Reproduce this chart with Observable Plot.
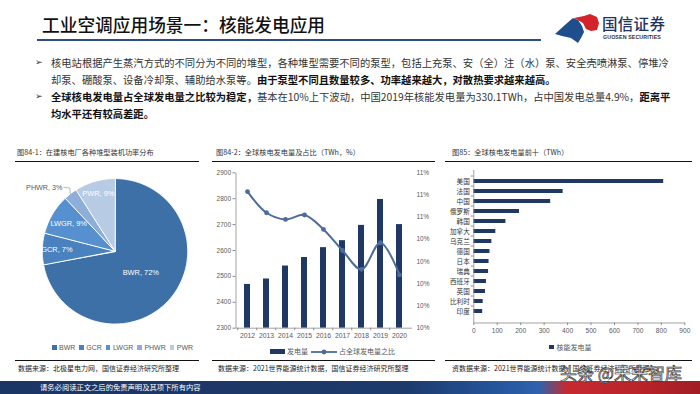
<!DOCTYPE html>
<html><head><meta charset="utf-8">
<script src="https://cdn.jsdelivr.net/npm/d3@7"></script>
<script src="https://cdn.jsdelivr.net/npm/@observablehq/plot@0.6"></script>
<style>
html,body{margin:0;padding:0;}
body{width:700px;height:394px;position:relative;overflow:hidden;background:#fff;font-family:"Liberation Sans","Noto Sans CJK SC",sans-serif;color:#222;}
.a{position:absolute;white-space:nowrap;line-height:1;}
.cjk{font-family:"Noto Sans CJK SC","Liberation Sans",sans-serif;}
.title{left:42px;top:15.5px;font-size:17.7px;font-weight:500;color:#111;}
.uline{left:37px;top:38.5px;width:504px;height:2px;background:#2c4c8a;}
.body{font-size:10.3px;color:#333;}
.body b{font-weight:700;color:#111;}
.ctitle{font-size:7.2px;color:#333;}
.rule{height:1.4px;background:#111;}
.src{font-size:7px;color:#222;}
.leg{font-size:7px;color:#595959;display:flex;align-items:center;}
.plot{position:absolute;}
.plot svg{display:block;overflow:visible;}
</style></head><body>

<div class="a cjk title">工业空调应用场景一：核能发电应用</div>
<div class="a uline"></div>
<svg class="a" style="left:552px;top:10px" width="52" height="38" viewBox="552 10 52 38">
  <path d="M555,34 L566,24 L573,18 L578,20 L582,26 L584,32 L581,38 L578,43 L571,38 L562,36 Z" fill="#1f4e8c"/>
  <path d="M574,18 L584,16 L590,14 L597,17 L599,23 L597,30 L591,31 L586,29 L583,23 Z" fill="#d4232b"/>
</svg>
<div class="a cjk" style="left:602px;top:16px;font-size:15.5px;color:#1f3360;font-weight:500;letter-spacing:0.3px">国信证券</div>
<div class="a" style="left:603px;top:34.5px;font-size:5.3px;font-weight:700;color:#333;letter-spacing:0.1px">GUOSEN SECURITIES</div>

<div class="a" style="left:35px;top:58px;font-size:9px;color:#333;font-family:'DejaVu Sans'">➢</div>
<div class="a cjk body" style="left:51px;top:58px">核电站根据产生蒸汽方式的不同分为不同的堆型，各种堆型需要不同的泵型，包括上充泵、安（全）注（水）泵、安全壳喷淋泵、停堆冷</div>
<div class="a cjk body" style="left:51px;top:75px">却泵、硼酸泵、设备冷却泵、辅助给水泵等。<b>由于泵型不同且数量较多、功率越来越大，对散热要求越来越高。</b></div>
<div class="a" style="left:35px;top:92px;font-size:9px;color:#333;font-family:'DejaVu Sans'">➢</div>
<div class="a cjk body" style="left:51px;top:92px"><b>全球核电发电量占全球发电量之比较为稳定，</b>基本在10%上下波动，中国2019年核能发电量为330.1TWh，占中国发电总量4.9%，<b>距离平</b></div>
<div class="a cjk body" style="left:51px;top:109px"><b>均水平还有较高差距。</b></div>

<!-- chart 1 -->
<div class="a cjk ctitle" style="left:17px;top:149px">图84-1：在建核电厂各种堆型装机功率分布</div>
<div class="a rule" style="left:15px;top:160.5px;width:184px"></div>
<div class="plot" id="c1" style="left:0px;top:160px"></div>
<div class="a leg" id="leg1" style="left:52px;top:344px"></div>
<div class="a rule" style="left:15px;top:359.5px;width:184px"></div>
<div class="a cjk src" style="left:18px;top:364.5px">数据来源：北极星电力网，国信证券经济研究所整理</div>

<!-- chart 2 -->
<div class="a cjk ctitle" style="left:216px;top:149px">图84-2：全球核电发电量及占比（TWh，%）</div>
<div class="a rule" style="left:212px;top:160.5px;width:223px"></div>
<div class="plot" id="c2" style="left:205px;top:165px"></div>
<div class="a leg" id="leg2" style="left:270px;top:348px"></div>
<div class="a rule" style="left:212px;top:359.5px;width:223px"></div>
<div class="a cjk src" style="left:218px;top:364.5px">数据来源：2021世界能源统计数据，国信证券经济研究所整理</div>

<!-- chart 3 -->
<div class="a cjk ctitle" style="left:452px;top:149px">图85：全球核电发电量前十（TWh）</div>
<div class="a rule" style="left:445px;top:161px;width:247px"></div>
<div class="plot" id="c3" style="left:445px;top:165px"></div>
<div class="a leg" id="leg3" style="left:549px;top:343.5px"></div>
<div class="a rule" style="left:445px;top:359.5px;width:247px"></div>
<div class="a cjk src" style="left:452px;top:364.5px">资数据来源：2021世界能源统计数据，国信证券经济研究所整理</div>

<!-- bottom bar -->
<div class="a" style="left:0;top:381px;width:700px;height:13px;background:linear-gradient(90deg,#1b3564 0%,#1d3a6c 58%,#2657a0 72%,#2f62ad 77%,#c52a30 81%,#b8232a 92%,#a11d24 100%);"></div>
<div class="a cjk" style="left:40px;top:384px;font-size:7.3px;color:#fff">请务必阅读正文之后的免责声明及其项下所有内容</div>
<div class="a cjk" style="left:560px;top:364px;font-size:17px;color:#fff;-webkit-text-stroke:0.7px #333;font-weight:400">头条 @未来智库</div>

<script>
// ---------- data ----------
const reactorTypes = ["BWR", "GCR", "LWGR", "PHWR", "PWR"];
const reactorShares = [72, 7, 9, 3, 9];

const years = [2012, 2013, 2014, 2015, 2016, 2017, 2018, 2019, 2020];
const nuclearGen = [2469, 2490, 2540, 2573, 2611, 2638, 2697, 2797, 2700];
const nuclearShare = [10.83, 10.64, 10.58, 10.62, 10.49, 10.30, 10.13, 10.37, 10.08];
const genAxisTicks = [2300, 2400, 2500, 2600, 2700, 2800, 2900];
const shareAxisTicks = [9.6, 9.8, 10.0, 10.2, 10.4, 10.6, 10.8, 11.0];
const shareAxisLabels = ["10%", "10%", "10%", "10%", "10%", "11%", "11%", "11%"];

const countries = ["美国", "法国", "中国", "俄罗斯", "韩国", "加拿大", "乌克兰", "德国", "日本", "瑞典", "西班牙", "英国", "比利时", "印度"];
const countryGen = [810, 381, 328, 195, 137, 94, 77, 69, 65, 63, 54, 50, 40, 38];
const countryAxisTicks = [0, 100, 200, 300, 400, 500, 600, 700, 800, 900];

// ---------- styles ----------
const pieColors = ["#3d70a6", "#4a82c0", "#5690ce", "#8daed8", "#b8cbe4"];
const navy = "#1f3864";
const lineBlue = "#4c6d9c";
const axisGrey = "#8c8c8c";
const font = "'Liberation Sans','Noto Sans CJK SC',sans-serif";

// ---------- chart 1 : pie ----------
{
  const W = 210, H = 190, cx = 114.5, cy = 90.8, R = 72.7;
  const pieData = reactorTypes.map((t, i) => ({type: t, share: reactorShares[i]}));
  const arcs = d3.pie().sort(null).value(d => d.share)(pieData);
  const pts = arcs.flatMap(a => {
    const n = Math.max(2, Math.ceil((a.endAngle - a.startAngle) / 0.015));
    const out = [{type: a.data.type, x: 0, y: 0}];
    for (let k = 0; k <= n; k++) {
      const t = a.startAngle + (a.endAngle - a.startAngle) * k / n;
      out.push({type: a.data.type, x: Math.sin(t), y: Math.cos(t)});
    }
    return out;
  });
  const radial = {BWR: 0.46, GCR: 0.8, LWGR: 0.74, PWR: 0.82};
  const inner = arcs.filter(a => a.data.type !== "PHWR").map(a => {
    const m = (a.startAngle + a.endAngle) / 2, r = radial[a.data.type];
    return {x: r * Math.sin(m), y: r * Math.cos(m), label: `${a.data.type}, ${a.data.share}%`};
  });
  const ph = arcs.find(a => a.data.type === "PHWR");
  const pm = (ph.startAngle + ph.endAngle) / 2;
  const edge = {x: Math.sin(pm), y: Math.cos(pm)};
  const leader = [edge, {x: edge.x - 0.01, y: edge.y + 0.08}, {x: edge.x - 0.09, y: edge.y + 0.09}];
  const outer = [{x: edge.x - 0.11, y: edge.y + 0.09, label: `PHWR, ${ph.data.share}%`}];

  const c1 = Plot.plot({
    width: W, height: H, margin: 0,
    style: {fontFamily: font, background: "transparent"},
    x: {domain: [-cx / R, (W - cx) / R], axis: null},
    y: {domain: [-(H - cy) / R, cy / R], axis: null},
    color: {domain: reactorTypes, range: pieColors},
    marks: [
      Plot.line(pts, {x: "x", y: "y", z: "type", fill: "type", stroke: "white", strokeWidth: 1, curve: "linear-closed"}),
      Plot.text(inner, {x: "x", y: "y", text: "label", fill: "white", fontSize: 7.4}),
      Plot.line(leader, {x: "x", y: "y", stroke: "#999", strokeWidth: 0.7}),
      Plot.text(outer, {x: "x", y: "y", text: "label", fill: "#595959", fontSize: 7.2, textAnchor: "end"})
    ]
  });
  document.getElementById("c1").appendChild(c1);

  const leg = document.getElementById("leg1");
  reactorTypes.forEach((t, i) => {
    const s = document.createElement("span");
    s.style.cssText = `display:inline-block;width:4.5px;height:4.5px;background:${pieColors[i]};margin:0 2.5px 0 ${i ? 4 : 0}px`;
    leg.appendChild(s);
    const tx = document.createElement("span");
    tx.textContent = t;
    leg.appendChild(tx);
  });
}

// ---------- chart 2 : bars + line ----------
{
  const W = 235, H = 185, mL = 30.5, mR = 28.5, mT = 7.3, mB = 22.3;
  const iw = W - mL - mR, ih = H - mT - mB;
  const [g0, g1] = [genAxisTicks[0], genAxisTicks[genAxisTicks.length - 1]];
  const [s0, s1] = [shareAxisTicks[0], shareAxisTicks[shareAxisTicks.length - 1]];
  const toLeft = p => g0 + (p - s0) * (g1 - g0) / (s1 - s0);
  const data = years.map((y, i) => ({year: y, gen: nuclearGen[i], share: nuclearShare[i]}));
  const rightTicks = shareAxisTicks.map(toLeft);
  const rightLabel = new Map(rightTicks.map((v, i) => [v, shareAxisLabels[i]]));
  const bw = iw / years.length;

  const c2 = Plot.plot({
    width: W, height: H, marginLeft: mL, marginRight: mR, marginTop: mT, marginBottom: mB,
    style: {fontFamily: font, background: "transparent", color: "#595959"},
    x: {type: "band", domain: years, paddingInner: 0.66, paddingOuter: 0.33, axis: null, label: null},
    y: {domain: [g0, g1], axis: null, label: null},
    marks: [
      Plot.barY(data, {x: "year", y1: () => g0, y2: "gen", fill: navy}),
      Plot.line(data, {x: "year", y: d => toLeft(d.share), stroke: lineBlue, strokeWidth: 2, curve: "catmull-rom"}),
      Plot.dot(data, {x: "year", y: d => toLeft(d.share), r: 2.4, fill: lineBlue}),
      Plot.frame({stroke: axisGrey, strokeWidth: 0.8, strokeDasharray: `0 ${iw + ih} ${iw + ih}`}),
      Plot.axisY(genAxisTicks, {anchor: "left", label: null, tickSize: 3, tickPadding: 2, fontSize: 6.5, stroke: axisGrey, tickFormat: d => String(d)}),
      Plot.axisY(rightTicks, {anchor: "right", label: null, tickSize: 0, tickPadding: 4.5, fontSize: 6.5, tickFormat: v => rightLabel.get(v)}),
      Plot.axisX({label: null, tickSize: 0, tickPadding: 5, fontSize: 6.8, tickFormat: d => String(d)}),
      Plot.axisX({label: null, tickSize: 2.5, tickFormat: () => "", dx: -bw / 2, stroke: axisGrey})
    ]
  });
  document.getElementById("c2").appendChild(c2);

  document.getElementById("leg2").innerHTML =
    `<span style="display:inline-block;width:15px;height:5px;background:${navy};margin-right:2px"></span><span class="cjk">发电量</span>` +
    `<svg width="26" height="6" style="margin:0 2px 0 3px"><line x1="0" y1="3" x2="26" y2="3" stroke="${lineBlue}" stroke-width="1.8"/><circle cx="13" cy="3" r="2.4" fill="${lineBlue}"/></svg><span class="cjk">占全球发电量之比</span>`;
}

// ---------- chart 3 : horizontal bars ----------
{
  const W = 255, H = 185, mL = 28.3, mR = 15.7, mT = 4.5, mB = 27.5;
  const iw = W - mL - mR, ih = H - mT - mB;
  const data = countries.map((c, i) => ({country: c, gen: countryGen[i]}));
  const bh = ih / countries.length;
  const c3 = Plot.plot({
    width: W, height: H, marginLeft: mL, marginRight: mR, marginTop: mT, marginBottom: mB,
    style: {fontFamily: font, background: "transparent", color: "#595959"},
    x: {domain: [countryAxisTicks[0], countryAxisTicks[countryAxisTicks.length - 1]], axis: null, label: null},
    y: {type: "band", domain: countries, paddingInner: 0.6, paddingOuter: 0.3, axis: null, label: null},
    marks: [
      Plot.barX(data, {y: "country", x: "gen", fill: navy}),
      Plot.frame({stroke: axisGrey, strokeWidth: 0.8, strokeDasharray: `0 ${iw + ih} ${iw + ih}`}),
      Plot.axisY({label: null, tickSize: 0, tickPadding: 4, fontSize: 6.6, fill: "#333"}),
      Plot.axisY({label: null, tickSize: 2.5, tickFormat: () => "", dy: -bh / 2, stroke: axisGrey}),
      Plot.axisX(countryAxisTicks, {label: null, tickSize: 2.5, tickPadding: 3, fontSize: 6.6, stroke: axisGrey, tickFormat: d => String(d)})
    ]
  });
  document.getElementById("c3").appendChild(c3);
  document.getElementById("leg3").innerHTML =
    `<span style="display:inline-block;width:4.5px;height:4.5px;background:${navy};margin-right:3px"></span><span class="cjk">核能发电量</span>`;
}
</script>
</body></html>
